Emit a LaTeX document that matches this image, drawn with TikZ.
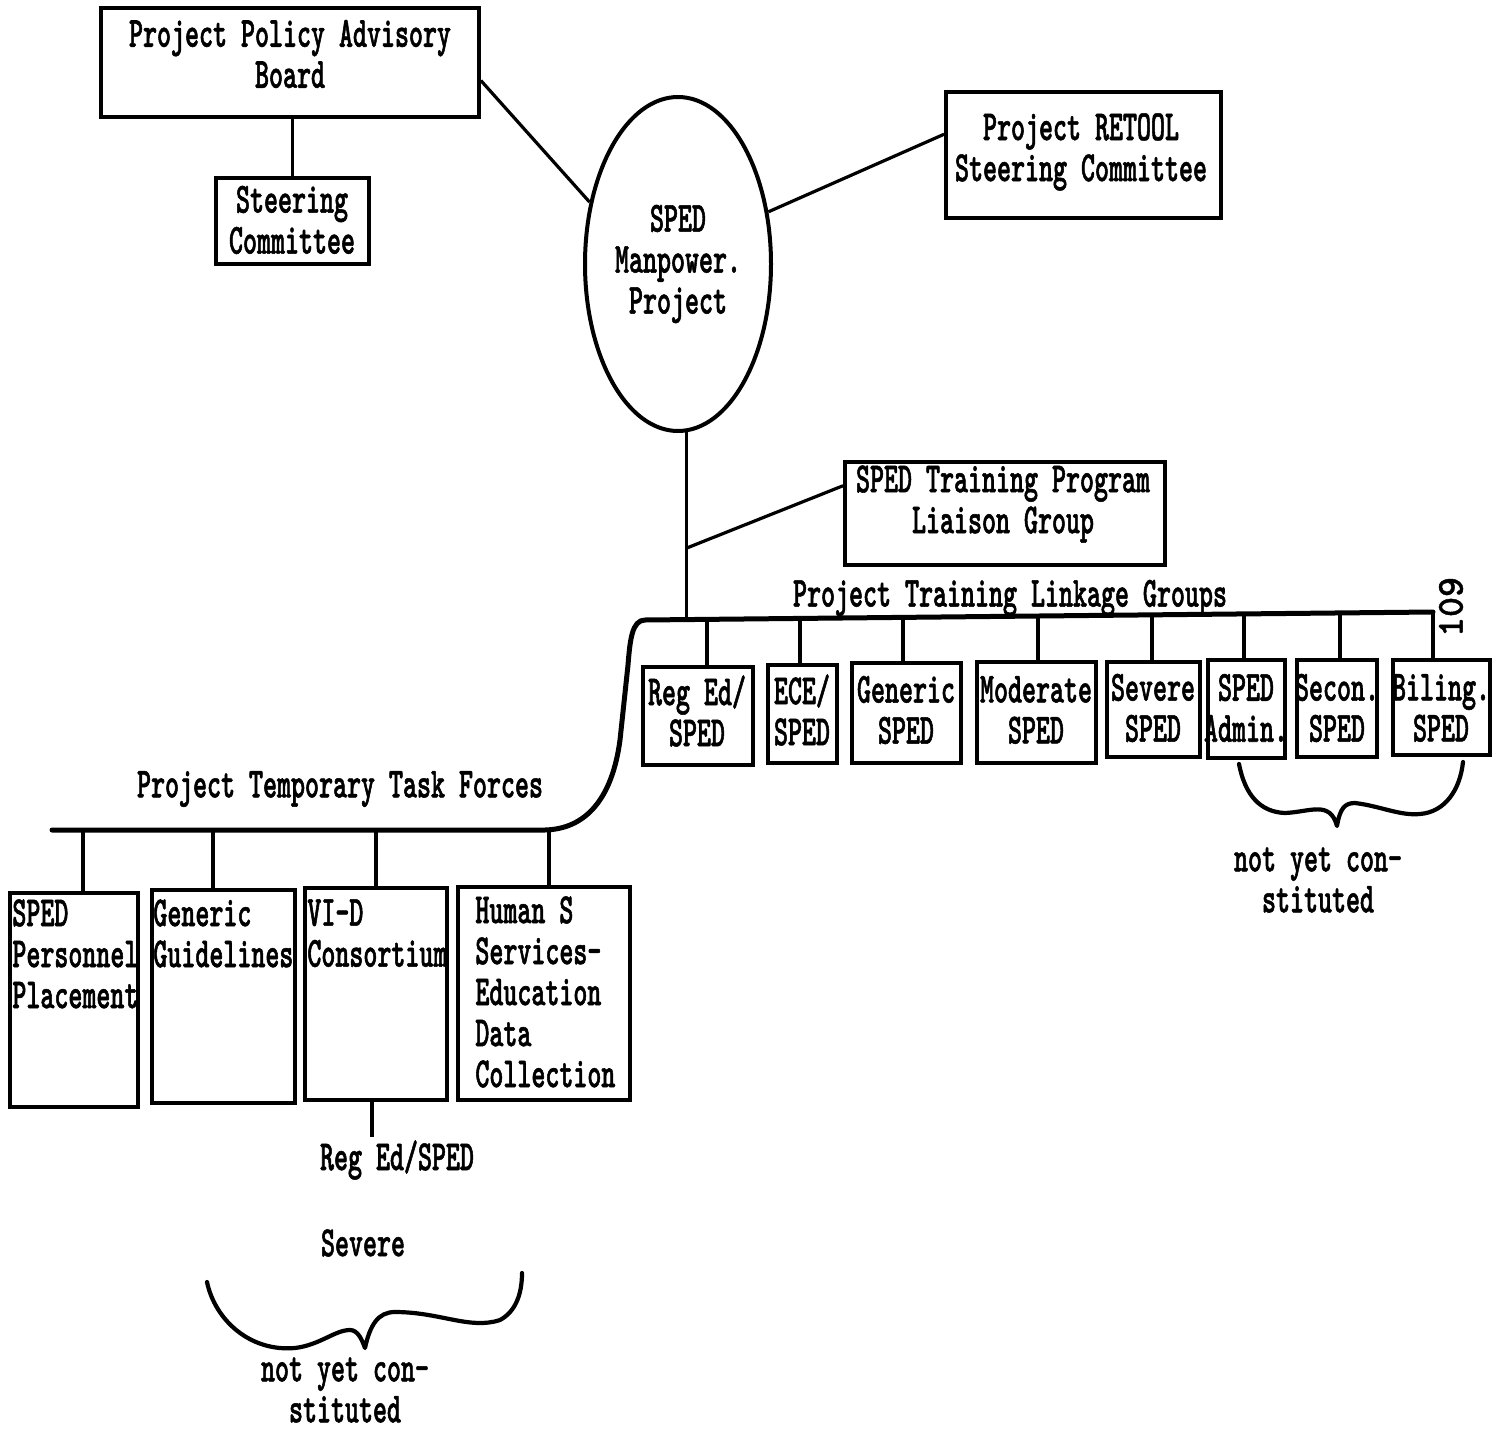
\documentclass[tikz,border=0pt]{standalone}
\usepackage{fontspec}
\usetikzlibrary{shapes.geometric,fit,calc}
\newfontfamily\tw{lmmonolt10-bold}[Extension=.otf,FakeStretch=0.62,FakeBold=1.2]
\newfontfamily\twn{lmmonolt10-bold}[Extension=.otf,FakeBold=1.2]
\tikzset{
  box/.style={draw, line width=1.9pt, inner sep=0pt},
  txt/.style={inner sep=0pt, align=center},
  conn/.style={line width=1.6pt},
  barline/.style={line width=2.5pt, line join=round, line cap=round},
  brace/.style={line width=2.1pt, line cap=round, line join=round}
}
\begin{document}
\begin{tikzpicture}[x=0.5pt,y=-0.5pt,font=\tw\fontsize{21.5}{20.5}\selectfont]
\fill[white] (0,0) rectangle (1505,1429);
\useasboundingbox (0,0) rectangle (1505,1429);

% top boxes
\node[box, fit={(101,8) (479,117)}] (board) {};
\node[txt] (board-t) at (290,54) {Project Policy Advisory\\Board};
\node[box, fit={(216,178) (369,264)}] (steer) {};
\node[txt] (steer-t) at (292,220) {Steering\\Committee};
\node[box, fit={(946,92) (1221,218)}] (retool) {};
\node[txt] (retool-t) at (1081,152) {Project RETOOL\\Steering Committee};
\node[draw, ellipse, line width=2pt, minimum width=93pt, minimum height=167pt, inner sep=0pt, align=center] (sped) at (678,264) {SPED\\Manpower.\\Project};
\node[box, fit={(845,462) (1165,565)}] (liaison) {};
\node[txt] (liaison-t) at (1003,504) {SPED Training Program\\Liaison Group};

% linkage groups
\node[box, fit={(643,667) (753,765)}] (k1) {};
\node[box, fit={(768,665) (837,763)}] (k2) {};
\node[box, fit={(852,663) (961,763)}] (k3) {};
\node[box, fit={(977,662) (1096,763)}] (k4) {};
\node[box, fit={(1107,662) (1200,757)}] (k5) {};
\node[box, fit={(1208,660) (1285,758)}] (k6) {};
\node[box, fit={(1297,660) (1377,757)}] (k7) {};
\node[box, fit={(1393,660) (1490,755)}] (k8) {};
\node[txt] (k1-t) at (697,711) {Reg Ed/\\SPED};
\node[txt] (k2-t) at (802,710) {ECE/\\SPED};
\node[txt] (k3-t) at (906,710) {Generic\\SPED};
\node[txt] (k4-t) at (1036,710) {Moderate\\SPED};
\node[txt] (k5-t) at (1153,708) {Severe\\SPED};
\node[txt] (k6-t) at (1246,708) {SPED\\Admin.};
\node[txt] (k7-t) at (1337,708) {Secon.\\SPED};
\node[txt] (k8-t) at (1441,708) {Biling.\\SPED};

% task forces
\node[box, fit={(10,893) (138,1107)}] (f1) {};
\node[box, fit={(152,890) (295,1103)}] (f2) {};
\node[box, fit={(305,888) (447,1100)}] (f3) {};
\node[box, fit={(458,887) (630,1100)}] (f4) {};
\node[txt, align=left, anchor=north west] (f1t) at (12,899) {SPED\\Personnel\\Placement};
\node[txt, align=left, anchor=north west] (f2t) at (153,899) {Generic\\Guidelines};
\node[txt, align=left, anchor=north west] (f3t) at (307,899) {VI-D\\Consortium};
\node[txt, align=left, anchor=north west] (f4t) at (475,896) {Human S\\Services-\\Education\\Data\\Collection};

% labels
\node[txt] (lkg) at (1010,598) {Project Training Linkage Groups};
\node[txt] (tmp) at (340,789) {Project Temporary Task Forces};
\node[txt] (regsped) at (397,1160) {Reg Ed/SPED};
\node[txt] (sev) at (363,1243) {Severe};
\node[txt] (nyc1) at (345,1390) {not yet con-\\stituted};
\node[txt] (nyc2) at (1318,880) {not yet con-\\stituted};
\node[inner sep=0pt, rotate=90, font=\twn\fontsize{19}{19}\selectfont] (pg) at (1451,607) {109};

% coordinates on bars
\coordinate (kjoin) at (688,619.5);
\coordinate (ljy) at (0,548);
\coordinate (dk1) at (707,619.4);
\coordinate (dk2) at (800,618.4);
\coordinate (dk3) at (903,617.4);
\coordinate (dk4) at (1038,616);
\coordinate (dk5) at (1152,614.9);
\coordinate (dk6) at (1244,614);
\coordinate (dk7) at (1340,613);
\coordinate (dk8) at (1433,612);
\coordinate (dt1) at (83,830);
\coordinate (dt2) at (213,830);
\coordinate (dt3) at (376,830);
\coordinate (dt4) at (549,830);
\coordinate (tbarL) at (52,830);
\coordinate (vb) at (372,1137);

% connectors
\draw[conn] (steer.north) -- (steer.north |- board.south);
\draw[conn] ($(board.north east)!0.66!(board.south east)$) -- (sped.145);
\draw[conn] (sped.30) -- ($(retool.north west)!0.34!(retool.south west)$);
\draw[conn] (sped.-87) -- (sped.-87 |- kjoin);
\draw[conn] (sped.-87 |- ljy) -- ($(liaison.north west)!0.24!(liaison.south west)$);
\foreach \i in {1,...,8} { \draw[conn] (dk\i) -- (dk\i |- k\i.north); }
\foreach \i in {1,...,4} { \draw[conn] (dt\i) -- (dt\i |- f\i.north); }
\draw[conn] (vb |- f3.south) -- (vb);

% bars
\draw[barline] (dk8) -- (645,620) .. controls (632,620) and (630,640) .. (628,665)
  -- (620,740) .. controls (612,800) and (585,829) .. (545,830) -- (tbarL);

% braces
\draw[brace] (1239,764) .. controls (1245,795) and (1260,812) .. (1285,813)
  .. controls (1310,812) and (1330,800) .. (1337,826)
  .. controls (1340,808) and (1345,803) .. (1355,803)
  .. controls (1380,806) and (1400,816) .. (1420,814)
  .. controls (1445,812) and (1460,790) .. (1463,762);
\draw[brace] (207,1282) .. controls (215,1320) and (250,1352) .. (295,1348)
  .. controls (320,1345) and (335,1330) .. (350,1330)
  .. controls (358,1330) and (362,1340) .. (365,1348)
  .. controls (370,1325) and (378,1312) .. (395,1312)
  .. controls (440,1312) and (470,1330) .. (500,1320)
  .. controls (515,1312) and (522,1295) .. (522,1273);
\end{tikzpicture}
\end{document}
